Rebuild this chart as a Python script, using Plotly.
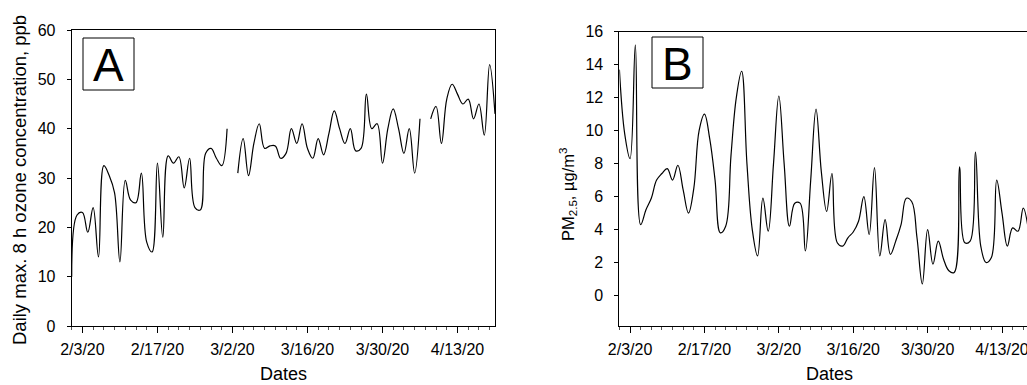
import pandas as pd
import plotly.graph_objects as go

W, H = 1027, 385

# ---------------- data ----------------
start_date = "2020-02-01"
ozone_ppb = [10, 22.5, 23, 19, 24, 14, 32.5, 30.5, 27, 13,
             29.5, 25.5, 25, 31, 17, 15, 33, 18, 34.5, 33,
             34.3, 28, 34, 24, 23.5, 35, 36, 34, 32.5, 40,
             None, 31, 38, 30.5, 37, 41, 36, 36.5, 36.5, 34,
             35, 40, 37, 41, 36, 34, 38, 34.7, 39, 43.6,
             40, 37, 40, 35.5, 36, 47, 40, 41, 33, 40,
             44, 40, 35, 40, 31, 42, None, 42, 44.5, 37,
             46, 49, 47, 45, 46, 42, 45, 38.7, 53, 43]
pm25 = [13.7, 9.8, 8.3, 15.2, 4.3, 5.2, 5.9, 7.0, 7.4, 7.7,
        7.0, 7.9, 6.4, 5.0, 6.5, 10.0, 11.0, 9.5, 7.0, 3.8,
        4.2, 8.5, 12.0, 13.6, 8.0, 4.0, 2.4, 5.9, 3.9, 8.0,
        12.1, 8.0, 4.2, 5.6, 5.6, 2.7, 7.0, 11.3, 7.5, 5.1,
        7.4, 3.2, 3.0, 3.5, 3.85, 4.5, 6.0, 3.7, 7.75, 2.4,
        4.6, 2.5, 3.3, 4.3, 5.9, 5.7, 3.5, 0.7, 4.0, 1.9,
        3.3, 2.2, 1.5, 1.4, 7.8, 3.2, 3.3, 8.7, 3.0, 2.0,
        2.3, 7.0, 5.0, 3.0, 4.1, 3.9, 5.3, 3.9]
ozone_ticks = [0, 10, 20, 30, 40, 50, 60]
pm_ticks = [0, 2, 4, 6, 8, 10, 12, 14, 16]

dates_a = pd.date_range(start_date, periods=len(ozone_ppb), freq="D")
dates_b = pd.date_range(start_date, periods=len(pm25), freq="D")

# ---------------- helpers ----------------
def px(x):
    return x / W

def py(y):
    return 1 - y / H

FONT = "Liberation Sans, Arial, sans-serif"
DAY = 86400000

fig = go.Figure()
fig.add_trace(go.Scatter(x=dates_a, y=ozone_ppb, mode="lines",
                         line=dict(color="black", width=1.2, shape="spline", smoothing=1.1),
                         connectgaps=False, xaxis="x", yaxis="y", showlegend=False))
fig.add_trace(go.Scatter(x=dates_b, y=pm25, mode="lines",
                         line=dict(color="black", width=1.2, shape="spline", smoothing=1.1),
                         connectgaps=False, xaxis="x2", yaxis="y2", showlegend=False))

xcommon = dict(type="date", tickmode="linear", tick0="2020-02-03", dtick=14 * DAY,
               tickformat="%-m/%-d/%y", ticks="outside", ticklen=6, tickwidth=1,
               tickcolor="black", showline=True, linecolor="black", linewidth=1,
               showgrid=False, zeroline=False, ticklabelstandoff=3, automargin=False,
               ticklabeloverflow="allow",
               tickfont=dict(family=FONT, size=16, color="black"),
               minor=dict(ticks="outside", ticklen=3, tickwidth=1, tickcolor="#555",
                          tick0="2020-02-01", dtick=2 * DAY, showgrid=False))
ycommon = dict(ticks="outside", ticklen=4, tickwidth=1, tickcolor="black",
               showline=True, linecolor="black", linewidth=1, showgrid=False,
               zeroline=False, ticklabelstandoff=8, automargin=False,
               tickfont=dict(family=FONT, size=16, color="black"))

fig.update_layout(
    width=W, height=H, margin=dict(l=0, r=0, t=0, b=0, autoexpand=False),
    paper_bgcolor="white", plot_bgcolor="white",
    xaxis=dict(xcommon, domain=[px(71.7), px(495)],
               range=["2020-02-01", "2020-04-20"], anchor="y", mirror=True),
    yaxis=dict(ycommon, domain=[py(326), py(30)], range=[0, 60],
               tickvals=ozone_ticks, anchor="x", mirror=True),
    xaxis2=dict(xcommon, domain=[px(619.4), 1.0],
                range=["2020-02-01", "2020-04-17 16:48"], anchor="y2", mirror=True),
    yaxis2=dict(ycommon, domain=[py(326), py(31.7)], range=[-1.85, 16],
                tickvals=pm_ticks, anchor="x2", mirror=False),
)

# panel letter boxes
for (x0, y0, x1, y1, letter) in [(83, 38, 134, 90, "A"), (652, 37, 703, 88, "B")]:
    fig.add_shape(type="rect", xref="paper", yref="paper",
                  x0=px(x0), x1=px(x1), y0=py(y1), y1=py(y0),
                  line=dict(color="black", width=1), fillcolor="white", layer="above")
    fig.add_annotation(xref="paper", yref="paper", x=px((x0 + x1) / 2), y=py((y0 + y1) / 2 + 1),
                       text=letter, showarrow=False, xanchor="center", yanchor="middle",
                       font=dict(family=FONT, size=46, color="black"))

# axis titles
fig.add_annotation(xref="paper", yref="paper", x=px(20), y=py(180),
                   text="Daily max. 8 h ozone concentration, ppb", textangle=-90,
                   showarrow=False, xanchor="center", yanchor="middle",
                   font=dict(family=FONT, size=18.5, color="black"))
fig.add_annotation(xref="paper", yref="paper", x=px(568), y=py(195),
                   text="PM<sub>2.5</sub>, µg/m<sup>3</sup>", textangle=-90,
                   showarrow=False, xanchor="center", yanchor="middle",
                   font=dict(family=FONT, size=16.5, color="black"))
fig.add_annotation(xref="paper", yref="paper", x=px(283), y=py(374),
                   text="Dates", showarrow=False, xanchor="center", yanchor="middle",
                   font=dict(family=FONT, size=18, color="black"))
fig.add_annotation(xref="paper", yref="paper", x=px(829.5), y=py(374),
                   text="Dates", showarrow=False, xanchor="center", yanchor="middle",
                   font=dict(family=FONT, size=18, color="black"))

fig.write_html("out.html", config={"displayModeBar": False},
               post_script="document.body.style.margin='0';document.body.style.overflow='hidden';")
